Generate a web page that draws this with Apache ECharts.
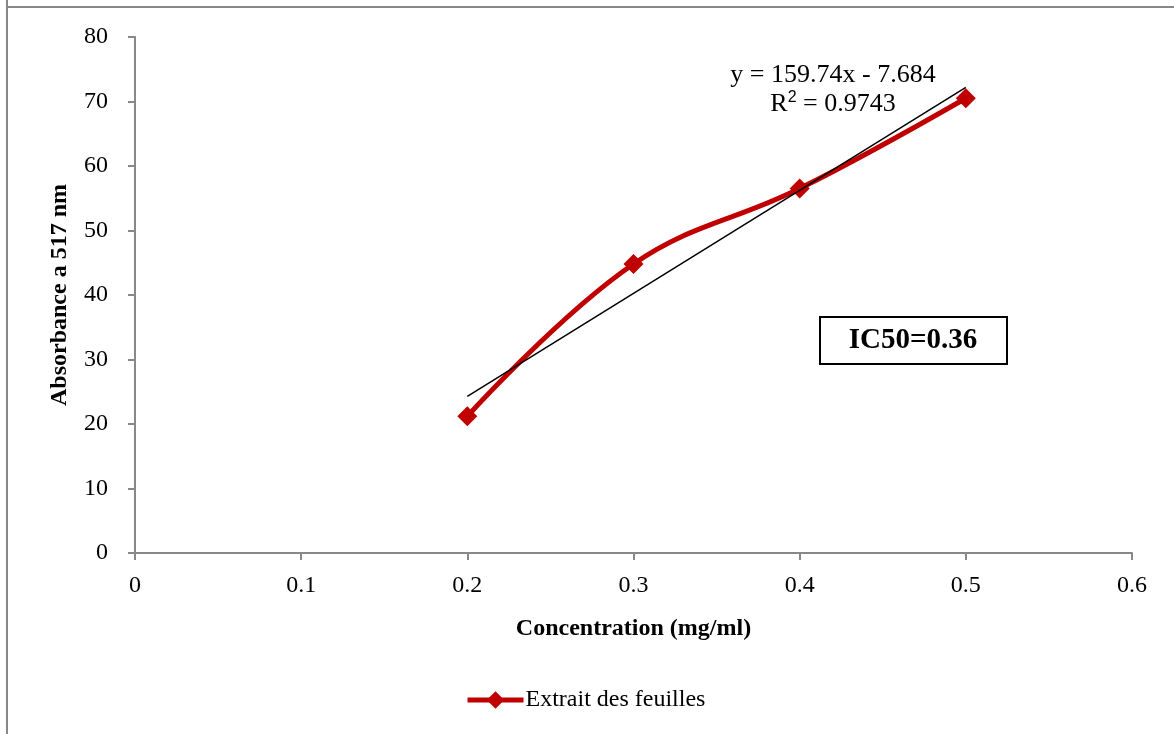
<!DOCTYPE html>
<html>
<head>
<meta charset="utf-8">
<script src="https://cdn.jsdelivr.net/npm/echarts@6/dist/echarts.min.js"></script>
<style>
  html, body { margin: 0; padding: 0; background: #fff; }
  #chart { width: 1174px; height: 734px; }
</style>
</head>
<body>
<div id="chart"></div>
<script>
// data
const concentration = [0.2, 0.3, 0.4, 0.5]
const absorbance = [21.2, 44.8, 56.5, 70.5]
// linear trendline end points (y = 159.74x - 7.684)
const trendX = [0.2, 0.5]
const trendY = [24.3, 72.2]
const xTicks = [0, 0.1, 0.2, 0.3, 0.4, 0.5, 0.6]
const yTicks = [0, 10, 20, 30, 40, 50, 60, 70, 80]

const font = 'Liberation Serif'
const red = '#C00000'
const axisGrey = '#888888'

const chart = echarts.init(document.getElementById('chart'))
chart.setOption({
  animation: false,
  textStyle: { fontFamily: font },
  grid: {
    left: 135,
    right: 42,
    top: 37,
    bottom: 181
  },
  legend: {
    bottom: 17,
    left: 460,
    data: ['Extrait des feuilles'],
    itemWidth: 56,
    itemHeight: 22,
    itemGap: 4,
    lineStyle: { width: 5 },
    textStyle: { fontFamily: font, fontSize: 24, color: '#000', padding: [0, 0, 0, -3] }
  },
  xAxis: {
    type: 'value',
    min: xTicks[0],
    max: xTicks[xTicks.length - 1],
    interval: 0.1,
    name: 'Concentration (mg/ml)',
    nameLocation: 'middle',
    nameGap: 64,
    nameTextStyle: { fontFamily: font, fontSize: 24, fontWeight: 'bold', color: '#000' },
    axisLine: { lineStyle: { color: axisGrey, width: 2 } },
    axisTick: { show: true, length: 7, lineStyle: { color: axisGrey, width: 2 } },
    axisLabel: {
      margin: 21,
      fontSize: 24,
      color: '#000',
      formatter: v => String(Math.round(v * 10) / 10)
    },
    splitLine: { show: false }
  },
  yAxis: {
    type: 'value',
    min: yTicks[0],
    max: yTicks[yTicks.length - 1],
    interval: 10,
    name: 'Absorbance a 517 nm',
    nameLocation: 'middle',
    nameGap: 63,
    nameTextStyle: { fontFamily: font, fontSize: 24, fontWeight: 'bold', color: '#000' },
    axisLine: { show: true, lineStyle: { color: axisGrey, width: 2 } },
    axisTick: { show: true, length: 7, lineStyle: { color: axisGrey, width: 2 } },
    axisLabel: { margin: 27, fontSize: 24, color: '#000' },
    splitLine: { show: false }
  },
  series: [
    {
      name: 'Extrait des feuilles',
      type: 'line',
      smooth: 0.4,
      symbol: 'diamond',
      symbolSize: 20,
      lineStyle: { color: red, width: 5 },
      itemStyle: { color: red },
      z: 3,
      data: concentration.map((x, i) => [x, absorbance[i]])
    },
    {
      name: 'trend',
      type: 'line',
      symbol: 'none',
      lineStyle: { color: '#000', width: 1.5 },
      z: 4,
      data: trendX.map((x, i) => [x, trendY[i]])
    }
  ],
  graphic: [
    { type: 'line', shape: { x1: 7, y1: 0, x2: 7, y2: 734 }, style: { stroke: '#888', lineWidth: 2 } },
    { type: 'line', shape: { x1: 7, y1: 7, x2: 1174, y2: 7 }, style: { stroke: '#888', lineWidth: 2 } },
    {
      type: 'text',
      x: 833,
      y: 75,
      style: {
        text: 'y = 159.74x - 7.684',
        font: '26px "Liberation Serif"',
        fill: '#000',
        align: 'center',
        verticalAlign: 'middle'
      }
    },
    {
      type: 'text',
      x: 833,
      y: 104,
      style: {
        text: 'R{sup|2} = 0.9743',
        font: '26px "Liberation Serif"',
        fill: '#000',
        align: 'center',
        verticalAlign: 'middle',
        rich: { sup: { fontSize: 16, verticalAlign: 'top', padding: [0, 0, 12, 0] } }
      }
    },
    {
      type: 'rect',
      shape: { x: 820, y: 317, width: 187, height: 47 },
      style: { fill: '#fff', stroke: '#000', lineWidth: 2 }
    },
    {
      type: 'text',
      x: 913,
      y: 341,
      style: {
        text: 'IC50=0.36',
        font: 'bold 29px "Liberation Serif"',
        fill: '#000',
        align: 'center',
        verticalAlign: 'middle'
      }
    }
  ]
})
</script>
</body>
</html>
